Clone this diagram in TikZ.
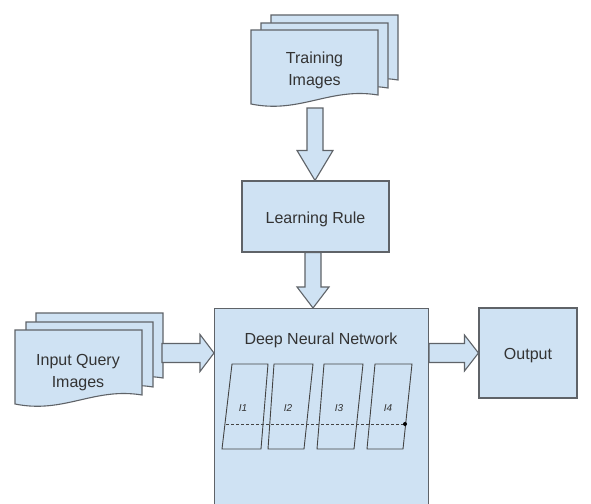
\documentclass[tikz,border=0pt]{standalone}
\usepackage{fontspec}
\setmainfont{Liberation Sans}
\usetikzlibrary{calc}
\definecolor{fillb}{HTML}{CFE2F3}
\definecolor{edge}{HTML}{5F6368}
\definecolor{txt}{HTML}{333333}
\definecolor{pedge}{HTML}{444444}
\newcommand\blkdown[5]{\draw[barrow] let \p1=(#1), \p2=(#2) in
  (\x1-#3,\y1) -- (\x1+#3,\y1) -- (\x1+#3,\y2+#5) -- (\x1+#4,\y2+#5) -- (\x1,\y2)
  -- (\x1-#4,\y2+#5) -- (\x1-#3,\y2+#5) -- cycle;}
\newcommand\blkright[5]{\draw[barrow] let \p1=(#1), \p2=(#2) in
  (\x1,\y1+#3) -- (\x2-#5,\y1+#3) -- (\x2-#5,\y1+#4) -- (\x2,\y1) -- (\x2-#5,\y1-#4)
  -- (\x2-#5,\y1-#3) -- (\x1,\y1-#3) -- cycle;}
\begin{document}
\begin{tikzpicture}[x=1pt,y=-1pt,
  box/.style={draw=edge, fill=fillb, line width=1.1pt},
  boxtext/.style={text=txt, font=\fontsize{16}{21}\selectfont, inner sep=0pt},
  barrow/.style={draw=edge, fill=fillb, line width=1.1pt, line join=miter},
  sheet/.style={draw=edge, fill=fillb, line width=1.1pt},
  lbl/.style={text=txt, font=\fontsize{16}{22}\selectfont, align=center, inner sep=0pt},
  para/.style={draw=pedge, line width=0.9pt},
  ilbl/.style={text=txt, font=\fontsize{10}{10}\selectfont\itshape, inner sep=0pt},
  docsheet/.pic={\path[sheet] (0,0) -- (127,0) -- (127,65)
     .. controls (79,57) and (49,84) .. (0,74) -- cycle;}
]
\clip (0,0) rectangle (591,503);
\fill[white] (0,0) rectangle (591,503);

% Training images stack
\pic at (271,15) {docsheet};
\pic at (261,23) {docsheet};
\pic at (251,30) {docsheet};
\node[lbl] (train) at (314.5,70.5) {Training\\Images};

% Learning rule
\node[box, minimum width=147pt, minimum height=71pt] (learn) at (315.5,216.5) {};
\node[boxtext] (learntext) at (315.5,219) {Learning Rule};

% Deep neural network
\node[box, minimum width=214pt, minimum height=215pt, anchor=north west] (dnn) at (214,308) {};
\node[lbl] (dnntitle) at (321,340) {Deep Neural Network};

% Output
\node[box, minimum width=98pt, minimum height=90pt] (out) at (528,353) {};
\node[boxtext] (outtext) at (528,356) {Output};

% Input query images stack
\pic at (36,313) {docsheet};
\pic at (26,322) {docsheet};
\pic at (15,330) {docsheet};
\node[lbl] (query) at (78,372.5) {Input Query\\Images};

% Block arrows
\coordinate (a1s) at (315,108);
\blkdown{a1s}{learn.north}{8pt}{18pt}{30pt}
\coordinate (a2s) at ($(learn.south)+(-2.5,0)$);
\blkdown{a2s}{dnn.north}{8pt}{16pt}{21pt}
\coordinate (a3s) at (162,353);
\blkright{a3s}{dnn.west}{9.5pt}{18.5pt}{14pt}
\coordinate (a4s) at ($(dnn.north east)+(0,45)$);
\blkright{a4s}{out.west}{9.5pt}{18pt}{14pt}

% layers
\draw[para] (232,364) -- (268,364) -- (261,449) -- (222,449) -- cycle;
\draw[para] (274,364) -- (313,364) -- (304,449) -- (268,449) -- cycle;
\draw[para] (324,364) -- (363,364) -- (354,449) -- (317,449) -- cycle;
\draw[para] (375,364) -- (412,364) -- (403,449) -- (367,449) -- cycle;
\node[ilbl] (i1) at (243,408) {I1};
\node[ilbl] (i2) at (288,408) {I2};
\node[ilbl] (i3) at (339,408) {I3};
\node[ilbl] (i4) at (388,408) {I4};
\coordinate (dl) at (226,424);
\coordinate (dr) at (405,424);
\draw[pedge, line width=0.9pt, dash pattern=on 3pt off 2pt] (dl) -- (dr);
\fill[black] (dr) circle (2);
\end{tikzpicture}
\end{document}
